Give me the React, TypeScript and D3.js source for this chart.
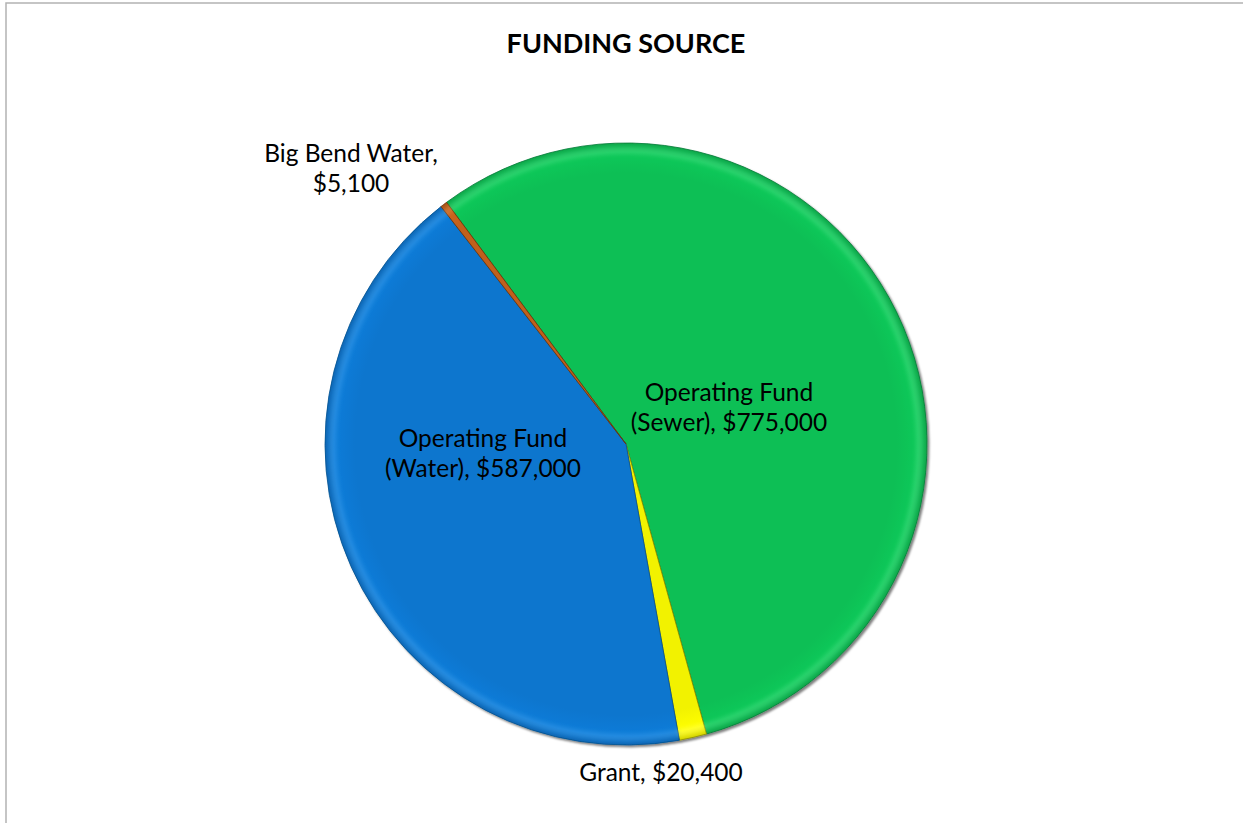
import React from "react";
import * as d3 from "d3";

const categories = ["Operating Fund (Sewer)", "Grant", "Operating Fund (Water)", "Big Bend Water"];
const values = [775000, 20400, 587000, 5100];
const labelLines = [
  ["Operating Fund", "(Sewer), $775,000"],
  ["Grant, $20,400"],
  ["Operating Fund", "(Water), $587,000"],
  ["Big Bend Water,", "$5,100"],
];
const colors = ["#0BBF55", "#F2F200", "#0A76CE", "#C0601A"];
const rimColors = ["#6EE89A", "#FFFF9A", "#5DB0F2", "#EE9D5A"];
const edgeColors = ["#067A36", "#8A8A00", "#05508F", "#6E3208"];
const title = "FUNDING SOURCE";

const W = 1243;
const H = 823;
const cx = 626;
const cy = 444;
const R = 301;

// label positions (centre x, first baseline y)
const labelPos: [number, number][] = [
  [729, 401],
  [661, 781],
  [483, 447],
  [351, 162],
];

export default function App() {
  const pie = d3
    .pie<number>()
    .sort(null)
    .value((d) => d)
    .startAngle((-36.6 * Math.PI) / 180)
    .endAngle(((360 - 36.6) * Math.PI) / 180);
  const arcs = pie(values);
  const arc = d3.arc<d3.PieArcDatum<number>>().innerRadius(0).outerRadius(R);
  const rimArc = d3
    .arc<d3.PieArcDatum<number>>()
    .innerRadius(R - 11)
    .outerRadius(R - 4);
  const font = "Lato, 'Open Sans', sans-serif";

  return (
    <svg
      width={W}
      height={H}
      style={{ position: "absolute", left: 0, top: 0, background: "#fff" }}
    >
      <defs>
        <filter id="shadow" x="-10%" y="-10%" width="120%" height="120%">
          <feDropShadow dx="2" dy="2" stdDeviation="1.2" floodColor="#000" floodOpacity="0.5" />
        </filter>
        <filter id="blur" x="-10%" y="-10%" width="120%" height="120%">
          <feGaussianBlur stdDeviation="2" />
        </filter>
        {arcs.map((a, i) => (
          <radialGradient key={i} id={`g${i}`} cx={0} cy={0} r={R} gradientUnits="userSpaceOnUse">
            <stop offset="0%" stopColor={colors[i]} />
            <stop offset="90%" stopColor={colors[i]} />
            <stop offset="97%" stopColor={d3.color(colors[i])!.brighter(0.15).formatHex()} />
            <stop offset="100%" stopColor={d3.color(colors[i])!.darker(0.4).formatHex()} />
          </radialGradient>
        ))}
      </defs>
      <rect x={6} y={3} width={W + 20} height={H + 20} fill="#fff" stroke="#b3b3b3" strokeWidth={1.5} />
      <text
        x={626}
        y={53}
        textAnchor="middle"
        fontFamily={font}
        fontWeight="bold"
        fontSize={27}
        fill="#000"
      >
        {title}
      </text>
      <g transform={`translate(${cx},${cy})`}>
        <g filter="url(#shadow)">
          {arcs.map((a, i) => (
            <path
              key={categories[i]}
              d={arc(a) || ""}
              fill={`url(#g${i})`}
              stroke={edgeColors[i]}
              strokeWidth={0.8}
              strokeLinejoin="round"
            />
          ))}
        </g>
        {arcs.map((a, i) => (
          <path
            key={"rim" + i}
            d={rimArc(a) || ""}
            fill={rimColors[i]}
            opacity={0.3}
            filter="url(#blur)"
          />
        ))}
      </g>
      {labelLines.map((lines, i) => (
        <text
          key={"lab" + i}
          x={labelPos[i][0]}
          y={labelPos[i][1]}
          textAnchor="middle"
          fontFamily={font}
          fontSize={24.5}
          fill="#000"
        >
          {lines.map((l, j) => (
            <tspan key={j} x={labelPos[i][0]} dy={j === 0 ? 0 : 30}>
              {l}
            </tspan>
          ))}
        </text>
      ))}
    </svg>
  );
}
